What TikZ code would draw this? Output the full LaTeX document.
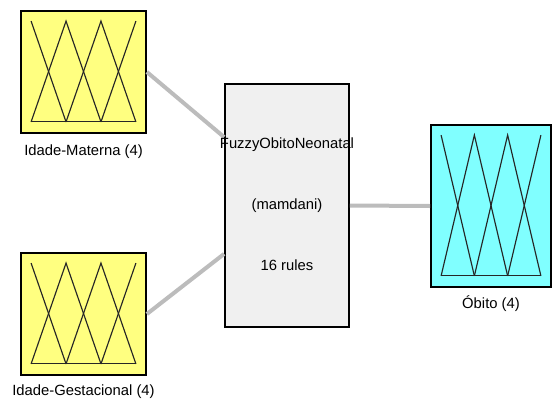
\documentclass[tikz,border=0pt]{standalone}
\usepackage{fontspec}
\setmainfont{Liberation Sans}
\usetikzlibrary{calc, positioning}

\definecolor{mfyellow}{RGB}{255,255,128}
\definecolor{mfcyan}{RGB}{128,255,255}
\definecolor{fisgray}{RGB}{240,240,240}
\definecolor{wiregray}{RGB}{188,188,188}

% funcoes de pertinencia (4 triangulos) dentro de uma caixa
\newcommand{\membfun}[1]{%
    \coordinate (#1-tl) at ($(#1.north west)+(11,11)$);
    \coordinate (#1-tr) at ($(#1.north east)+(-11,11)$);
    \coordinate (#1-bl) at ($(#1.south west)+(11,-12)$);
    \coordinate (#1-br) at ($(#1.south east)+(-11,-12)$);
    \foreach \k/\j in {0/0, 1/0.3333, 2/0.6667, 3/1} {
        \coordinate (#1-T\k) at ($(#1-tl)!\j!(#1-tr)$);
        \coordinate (#1-B\k) at ($(#1-bl)!\j!(#1-br)$);
    }
    \draw[mfline] (#1-T0) -- (#1-B1);
    \draw[mfline] (#1-B0) -- (#1-T1) -- (#1-B2);
    \draw[mfline] (#1-B1) -- (#1-T2) -- (#1-B3);
    \draw[mfline] (#1-B2) -- (#1-T3);
    \draw[mfline] (#1-B0) -- (#1-B3);
}

\begin{document}
\begin{tikzpicture}[
    x=1pt, y=-1pt,
    font=\fontsize{14.8}{17}\selectfont,
    varbox/.style={draw=black, line width=1.8pt, rectangle, inner sep=0pt,
        minimum width=125pt, minimum height=122pt},
    inbox/.style={varbox, fill=mfyellow},
    outbox/.style={varbox, fill=mfcyan, minimum width=120pt, minimum height=162pt},
    fisbox/.style={draw=black, line width=1.8pt, fill=fisgray, rectangle, inner sep=0pt,
        minimum width=124pt, minimum height=243pt},
    mfline/.style={draw=black!85, line width=1.15pt},
    wire/.style={draw=wiregray, line width=4pt},
    lbl/.style={inner sep=0pt, text=black}
]

    \useasboundingbox (0,0) rectangle (553,399);

    % 1. Caixas
    \node[inbox] (mat) at (83.5,72) {};
    \node[inbox] (gest) at (83.5,314) {};
    \node[fisbox] (fis) at (287,205.5) {};
    \node[outbox] (obito) at (491,206) {};

    % 2. Ligacoes
    \coordinate (fisin1) at ($(fis.north west)+(0,54)$);
    \coordinate (fisin2) at ($(fis.south west)+(0,-74)$);
    \draw[wire] (mat.east) -- (fisin1);
    \draw[wire] (gest.east) -- (fisin2);
    \draw[wire] (fis.east) -- (obito.west);

    % 3. Funcoes de pertinencia
    \membfun{mat}
    \membfun{gest}
    \membfun{obito}

    % 4. Rotulos
    \node[lbl] (matlbl) at ($(mat.south)+(0,18)$) {Idade-Materna (4)};
    \node[lbl] (gestlbl) at ($(gest.south)+(0,16)$) {Idade-Gestacional (4)};
    \node[lbl] (obitolbl) at ($(obito.south)+(0,16)$) {Óbito (4)};

    \node[lbl] (fisname) at ($(fis.center)+(0,-61)$) {FuzzyObitoNeonatal};
    \node[lbl] (fistype) at (fis.center) {(mamdani)};
    \node[lbl] (fisrules) at ($(fis.center)+(0,60)$) {16 rules};

\end{tikzpicture}
\end{document}
